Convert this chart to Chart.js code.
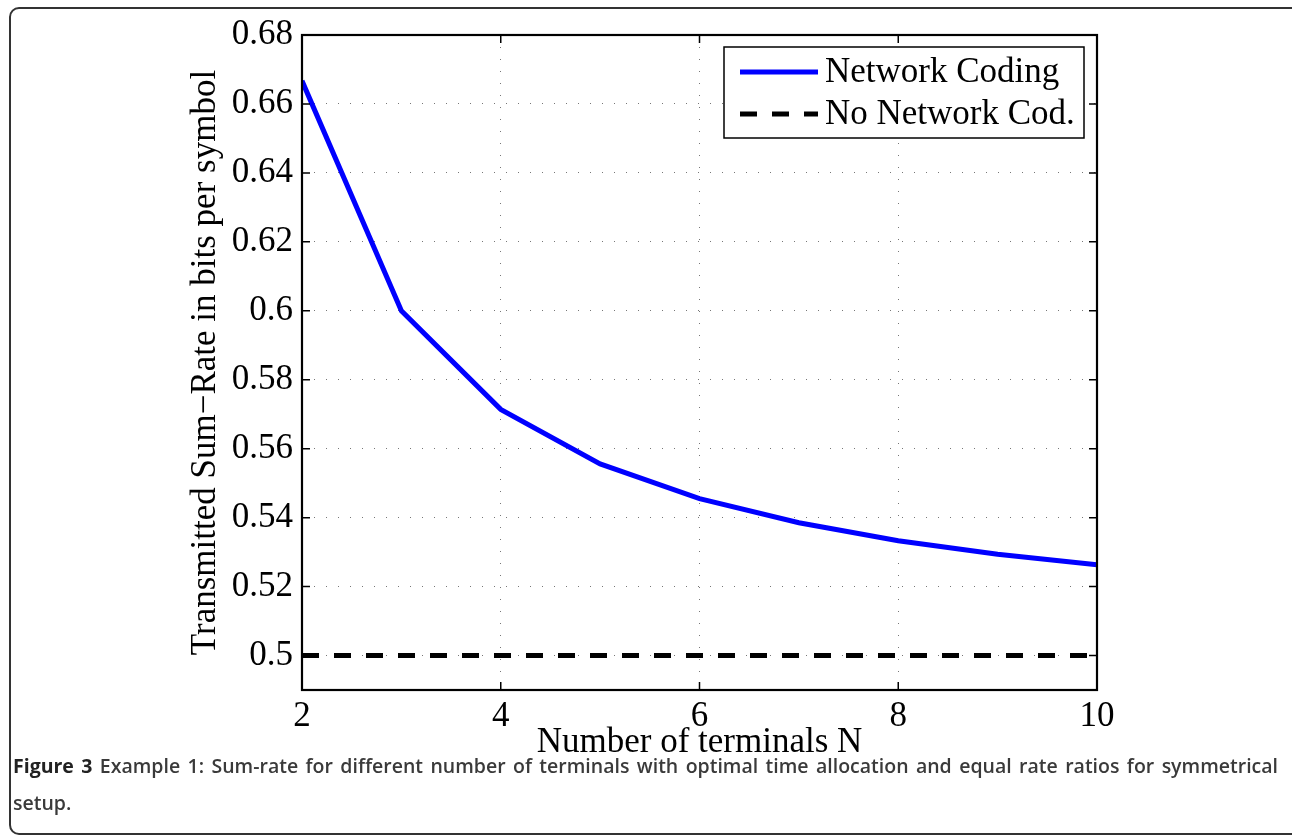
<!DOCTYPE html>
<html>
<head>
<meta charset="utf-8">
<script src="https://cdn.jsdelivr.net/npm/chart.js@4"></script>
<style>
  html, body { margin: 0; padding: 0; background: #fff; overflow: hidden; width: 1292px; height: 837px; }
  #wrap { position: absolute; left: 0; top: 0; width: 1292px; height: 837px; }
  #frame { position: absolute; left: 9px; top: 7px; width: 1400px; height: 828px; border: 2px solid #333; border-radius: 10px; box-sizing: border-box; }
  #caption { position: absolute; left: 13px; top: 747px; width: 1265px; font-family: "Open Sans", sans-serif; font-size: 19.5px; line-height: 37px; color: #3a3a3a; font-weight: 600; text-align: justify; }
  #caption b { font-weight: 700; color: #222; }
  canvas { position: absolute; left: 0; top: 0; }
</style>
</head>
<body>
<div id="wrap">
  <div id="frame"></div>
  <canvas id="c" width="1292" height="837"></canvas>
  <div id="caption"><b>Figure 3</b> Example 1: Sum-rate for different number of terminals with optimal time allocation and equal rate ratios for symmetrical setup.</div>
</div>
<script>
const nTerminals = [2, 3, 4, 5, 6, 7, 8, 9, 10];
const networkCoding = [0.6667, 0.6000, 0.5714, 0.5556, 0.5455, 0.5385, 0.5333, 0.5294, 0.5263];
const noNetworkCoding = [0.5, 0.5, 0.5, 0.5, 0.5, 0.5, 0.5, 0.5, 0.5];
const xTickValues = [2, 4, 6, 8, 10];
const yTickValues = [0.5, 0.52, 0.54, 0.56, 0.58, 0.6, 0.62, 0.64, 0.66, 0.68];
const seriesLabels = ['Network Coding', 'No Network Cod.'];
const xTitle = 'Number of terminals N';
const yTitle = 'Transmitted Sum\u2212Rate in bits per symbol';

const SERIF = '"Liberation Serif", "Times New Roman", serif';

const boxPlugin = {
  id: 'boxPlugin',
  afterDatasetsDraw(chart) {
    const ctx = chart.ctx;
    const a = chart.chartArea;
    const xs = chart.scales.x, ys = chart.scales.y;
    const tl = 8;
    ctx.save();
    ctx.strokeStyle = '#000';
    ctx.lineWidth = 1.5;
    ctx.beginPath();
    xs.ticks.forEach(t => {
      const px = xs.getPixelForValue(t.value);
      ctx.moveTo(px, a.bottom); ctx.lineTo(px, a.bottom - tl);
      ctx.moveTo(px, a.top); ctx.lineTo(px, a.top + tl);
    });
    ys.ticks.forEach(t => {
      const py = ys.getPixelForValue(t.value);
      ctx.moveTo(a.left, py); ctx.lineTo(a.left + tl, py);
      ctx.moveTo(a.right, py); ctx.lineTo(a.right - tl, py);
    });
    ctx.stroke();
    ctx.lineWidth = 2.2;
    ctx.strokeRect(a.left, a.top, a.right - a.left, a.bottom - a.top);
    ctx.restore();
  },
  afterDraw(chart) {
    const ctx = chart.ctx;
    const bx = 724, by = 47, bw = 360, bh = 91;
    ctx.save();
    ctx.fillStyle = '#fff';
    ctx.fillRect(bx, by, bw, bh);
    ctx.strokeStyle = '#000';
    ctx.lineWidth = 1.5;
    ctx.strokeRect(bx, by, bw, bh);
    const rows = [72, 114];
    chart.data.datasets.forEach((ds, i) => {
      const y = rows[i];
      ctx.beginPath();
      ctx.strokeStyle = ds.borderColor;
      ctx.lineWidth = ds.borderWidth;
      ctx.setLineDash(ds.borderDash || []);
      ctx.moveTo(740, y); ctx.lineTo(818, y);
      ctx.stroke();
      ctx.setLineDash([]);
      ctx.fillStyle = '#000';
      ctx.font = '35px ' + SERIF;
      ctx.textBaseline = 'middle';
      ctx.textAlign = 'left';
      ctx.fillText(ds.label, 825, y + 1);
    });
    ctx.restore();
  }
};

new Chart(document.getElementById('c'), {
  type: 'line',
  data: {
    datasets: [
      {
        label: seriesLabels[0],
        data: nTerminals.map((n, i) => ({ x: n, y: networkCoding[i] })),
        borderColor: '#0000ff',
        borderWidth: 5,
        pointRadius: 0,
        tension: 0,
        fill: false
      },
      {
        label: seriesLabels[1],
        data: nTerminals.map((n, i) => ({ x: n, y: noNetworkCoding[i] })),
        borderColor: '#000000',
        borderWidth: 5,
        borderDash: [17, 15],
        pointRadius: 0,
        tension: 0,
        fill: false
      }
    ]
  },
  options: {
    responsive: false,
    animation: false,
    devicePixelRatio: 1,
    layout: { padding: { left: 170, right: 195, top: 35, bottom: 67 } },
    plugins: { legend: { display: false }, tooltip: { enabled: false } },
    scales: {
      x: {
        type: 'linear',
        min: 2, max: 10,
        afterBuildTicks(scale) { scale.ticks = xTickValues.map(v => ({ value: v })); },
        afterFit(scale) { scale.height = 80; },
        ticks: {
          padding: 6,
          color: '#000',
          font: { family: SERIF, size: 35 },
          maxRotation: 0,
          callback: v => String(v)
        },
        grid: { color: '#777', lineWidth: 1, drawTicks: false },
        border: { display: false, dash: [1, 11] },
        title: { display: true, text: xTitle, color: '#000', font: { family: SERIF, size: 35, lineHeight: 1 }, padding: { top: 0, bottom: 10 } }
      },
      y: {
        type: 'linear',
        min: 0.49, max: 0.68,
        afterBuildTicks(scale) { scale.ticks = yTickValues.map(v => ({ value: v })); },
        afterFit(scale) { scale.width = 132; },
        ticks: {
          padding: 9,
          color: '#000',
          font: { family: SERIF, size: 35 },
          callback: v => String(parseFloat(Number(v).toFixed(2)))
        },
        grid: { color: '#777', lineWidth: 1, drawTicks: false },
        border: { display: false, dash: [1, 11] },
        title: { display: true, text: yTitle, color: '#000', font: { family: SERIF, size: 35, lineHeight: 1 }, padding: { top: 18, bottom: 0 } }
      }
    }
  },
  plugins: [boxPlugin]
});
</script>
</body>
</html>
